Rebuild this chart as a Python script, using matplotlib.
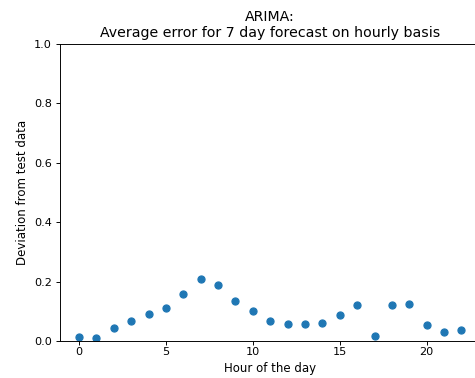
import matplotlib
matplotlib.use("Agg")
import matplotlib.pyplot as plt

hours = list(range(23))
errors = [0.014, 0.011, 0.043, 0.067, 0.092, 0.110, 0.159, 0.209, 0.190, 0.135,
          0.102, 0.067, 0.057, 0.057, 0.059, 0.086, 0.121, 0.017, 0.120, 0.125,
          0.054, 0.030, 0.037]

DPI = 85
W, H = 475, 378

fig = plt.figure(figsize=(W / DPI, H / DPI), dpi=DPI)
# axes runs a few pixels past the right edge (reference is a cropped screenshot)
ax = fig.add_axes([60 / W, 37 / H, 420.5 / W, 297 / H])
ax.scatter(hours, errors, color="#1f77b4")
ax.set_ylim(0, 1.0)
ax.set_xticks([0, 5, 10, 15, 20])
ax.set_yticks([0.0, 0.2, 0.4, 0.6, 0.8, 1.0])
ax.tick_params(labelsize=9.5, length=3.2)
ax.tick_params(axis="x", pad=2.2)
ax.set_title("ARIMA:\nAverage error for 7 day forecast on hourly basis")
ax.set_xlabel("Hour of the day", labelpad=3.5)
ax.set_ylabel("Deviation from test data")

fig.savefig("out.png", dpi=DPI)
